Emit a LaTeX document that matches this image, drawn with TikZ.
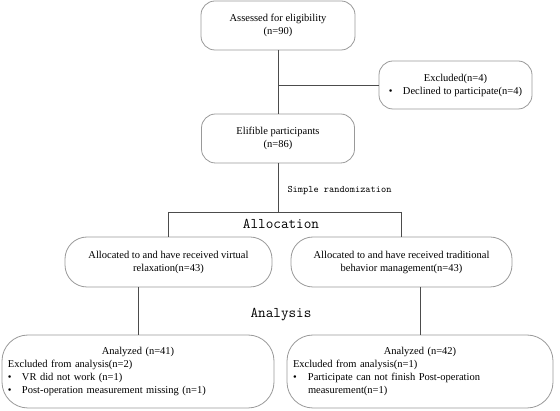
\documentclass[tikz,border=0pt]{standalone}
\usepackage{fontspec}
\setmainfont{Liberation Serif}
\begin{document}
\begin{tikzpicture}[x=1pt,y=-1pt,
	box/.style={draw=black!40,line width=0.8pt,rounded corners=14pt,align=center,inner sep=0pt,font=\fontsize{10.5}{13}\selectfont},
	alloc/.style={box,rounded corners=22pt,minimum height=50pt},
	result/.style={box,rounded corners=26pt,align=left,inner xsep=6pt,minimum height=73pt},
	line/.style={draw=black!70,line width=0.9pt},
	head/.style={font=\ttfamily\fontsize{14.8}{16}\selectfont}]
	\useasboundingbox (0,0) rectangle (560,411);
	% screening
	\node[box,minimum width=154pt,minimum height=49pt] (assess) at (278,25.5) {Assessed for eligibility\\(n=90)};
	\node[box,minimum width=153pt,minimum height=48pt] (excl) at (455.5,85) {Excluded(n=4)\\\makebox[14pt][l]{\textbullet}Declined to participate(n=4)};
	\node[box,minimum width=153pt,minimum height=49pt] (elig) at (278,138.5) {Elifible participants\\(n=86)};
	\coordinate (j1) at (assess.south |- excl.west);
	\node[anchor=west,font=\ttfamily\fontsize{9.9}{11}\selectfont] (rand) at (284,191) {Simple randomization};
	% allocation
	\node[alloc,minimum width=207pt] (virt) at (168.5,262) {Allocated to and have received virtual\\relaxation(n=43)};
	\node[alloc,minimum width=221pt] (trad) at (401.5,262) {Allocated to and have received traditional\\behavior management(n=43)};
	\coordinate (b0) at (elig.south |- 0,212);
	\coordinate (bl) at (virt.north |- b0);
	\coordinate (br) at (trad.north |- b0);
	\node[head] (alloctext) at (281,224) {Allocation};
	% analysis
	\node[head] (anatext) at (281,315) {Analysis};
	\node[result,minimum width=272pt,text width=260pt] (anv) at (138,371.5) {\makebox[\hsize]{Analyzed (n=41)}\\
		Excluded from analysis(n=2)\\
		\makebox[14pt][l]{\textbullet}VR did not work (n=1)\\
		\makebox[14pt][l]{\textbullet}Post-operation measurement missing (n=1)};
	\node[result,minimum width=266pt,text width=254pt] (ant) at (420,371.5) {\makebox[\hsize]{Analyzed (n=42)}\\
		Excluded from analysis(n=1)\\
		\makebox[15pt][l]{\textbullet}Participate can not finish Post-operation\\
		\hspace*{15pt}measurement(n=1)};
	\path[line]
		(assess) edge (elig)
		(j1) edge (excl)
		(elig) edge (b0)
		(bl) edge (br)
		(bl) edge (virt)
		(br) edge (trad)
		(anv.north) edge (anv.north |- virt.south)
		(ant.north) edge (ant.north |- trad.south);
\end{tikzpicture}
\end{document}
